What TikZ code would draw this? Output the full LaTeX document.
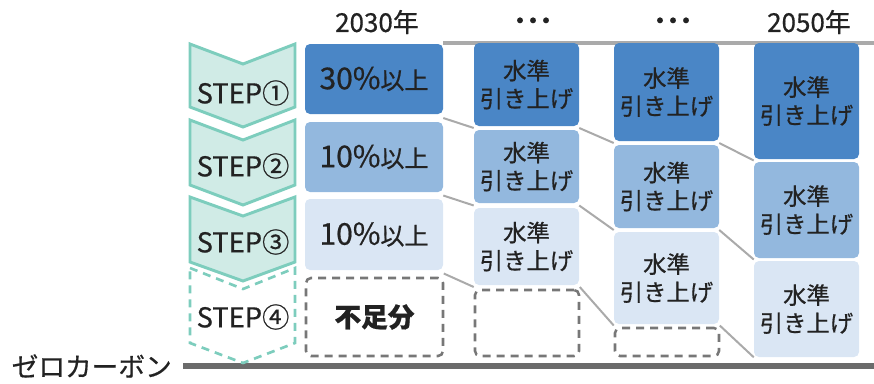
\documentclass[tikz,border=0pt]{standalone}
\usepackage{fontspec}
\setmainfont{Noto Sans CJK JP}[FakeBold=0.6]
\usetikzlibrary{calc}
\definecolor{dkb}{HTML}{4A86C6}
\definecolor{mdb}{HTML}{93B8DE}
\definecolor{ltb}{HTML}{DAE6F4}
\definecolor{mint}{HTML}{D0EBE6}
\definecolor{teal}{HTML}{7DCDBD}
\definecolor{txt}{HTML}{222222}
\definecolor{dash}{HTML}{777777}
\definecolor{conn}{HTML}{AAAAAA}
\newcommand\mkbox[7]{\node[#6, minimum width={(#4-#2)*0.75pt}, minimum height={(#5-#3)*0.75pt}] (#1) at ({(#2+#4)/2},{(#3+#5)/2}) {#7};}
\newcommand\fsz[1]{\fontsize{#1}{#1}\selectfont}
\newcommand\mydots{\makebox[9.75pt]{・}\makebox[9.75pt]{・}\makebox[9.75pt]{・}}
\tikzset{
  box/.style={rounded corners=3.75pt, inner sep=0pt, align=center, text=txt, font=\fsz{17.5}, execute at begin node={\baselineskip=21pt}},
  dkbox/.style={box, fill=dkb},
  mdbox/.style={box, fill=mdb},
  ltbox/.style={box, fill=ltb},
  dbox/.style={box, draw=dash, line width=1.9pt, dash pattern=on 6pt off 4.5pt},
  chev/.style={fill=mint, draw=teal, line width=2.2pt, line join=miter},
  chevd/.style={draw=teal, line width=2pt, dash pattern=on 6pt off 4.5pt},
  steptext/.style={text=txt, font=\fsz{20.5}, inner sep=0pt},
  conline/.style={draw=conn, line width=1.5pt},
  hdr/.style={text=txt, font=\fsz{19.5}, inner sep=0pt},
  dots/.style={text=txt, font=\fsz{20}, inner sep=0pt},
}
\begin{document}
\begin{tikzpicture}[x=0.75pt, y=-0.75pt]
\useasboundingbox (0,0) rectangle (874,383);
% horizontal lines
\coordinate (topL) at (443,43);
\coordinate (topR) at (874,43);
\coordinate (botL) at (183,366);
\coordinate (botR) at (874,366);
\draw[draw=conn, line width=3pt] (topL) -- (topR);
\draw[draw=black!58, line width=4.5pt] (botL) -- (botR);
% chevrons
\draw[chev] (190,44) -- (243,64) -- (295,44) -- (295,107) -- (243,127) -- (190,107) -- cycle;
\draw[chev] (190,120) -- (243,140) -- (295,120) -- (295,185) -- (243,205) -- (190,185) -- cycle;
\draw[chev] (190,197) -- (243,216) -- (295,197) -- (295,262) -- (243,281) -- (190,262) -- cycle;
\draw[chevd] (190,268) -- (243,289) -- (295,268) -- (295,343) -- (243,363) -- (190,343) -- cycle;
\node[steptext] (s1) at (243,93) {STEP①};
\node[steptext] (s2) at (243,166) {STEP②};
\node[steptext] (s3) at (243,242) {STEP③};
\node[steptext] (s4) at (243,317) {STEP④};
% headers
\node[hdr] (h1) at (377,22) {2030年};
\node[dots] (h2) at (533,24) {\mydots};
\node[dots] (h3) at (673,24) {\mydots};
\node[hdr] (h4) at (809,22) {2050年};
\node[text=txt, font=\fsz{20}, inner sep=0pt, anchor=east] (zero) at (172,366) {ゼロカーボン};
% column 1
\mkbox{a1}{305}{44}{443}{114}{dkbox}{{\fsz{22.5}30\%}{\fsz{18}以上}}
\mkbox{a2}{305}{122}{443}{192}{mdbox}{{\fsz{22.5}10\%}{\fsz{18}以上}}
\mkbox{a3}{305}{199}{443}{270}{ltbox}{{\fsz{22.5}10\%}{\fsz{18}以上}}
\mkbox{a4}{306}{278}{443}{356}{dbox}{\fsz{20}\bfseries 不足分}
% column 2
\mkbox{b1}{474}{43}{579}{126}{dkbox}{水準\\引き上げ}
\mkbox{b2}{474}{130}{579}{203}{mdbox}{水準\\引き上げ}
\mkbox{b3}{474}{208}{579}{285}{ltbox}{水準\\引き上げ}
\mkbox{b4}{475}{290}{579}{356}{dbox}{}
% column 3
\mkbox{c1}{614}{43}{719}{141}{dkbox}{水準\\引き上げ}
\mkbox{c2}{614}{145}{719}{228}{mdbox}{水準\\引き上げ}
\mkbox{c3}{614}{232}{719}{324}{ltbox}{水準\\引き上げ}
\mkbox{c4}{615}{328}{719}{356}{dbox}{}
% column 4
\mkbox{d1}{754}{43}{859}{159}{dkbox}{水準\\引き上げ}
\mkbox{d2}{754}{162}{859}{258}{mdbox}{水準\\引き上げ}
\mkbox{d3}{754}{261}{859}{357}{ltbox}{水準\\引き上げ}
% connectors
\draw[conline] ($(a1.south east)!0.5!(a2.north east)$) -- ($(b1.south west)!0.5!(b2.north west)$);
\draw[conline] ($(b1.south east)!0.5!(b2.north east)$) -- ($(c1.south west)!0.5!(c2.north west)$);
\draw[conline] ($(c1.south east)!0.5!(c2.north east)$) -- ($(d1.south west)!0.5!(d2.north west)$);
\draw[conline] ($(a2.south east)!0.5!(a3.north east)$) -- ($(b2.south west)!0.5!(b3.north west)$);
\draw[conline] ($(b2.south east)!0.5!(b3.north east)$) -- ($(c2.south west)!0.5!(c3.north west)$);
\draw[conline] ($(c2.south east)!0.5!(c3.north east)$) -- ($(d2.south west)!0.5!(d3.north west)$);
\draw[conline] ($(a3.south east)!0.5!(a4.north east)$) -- ($(b3.south west)!0.5!(b4.north west)$);
\draw[conline] ($(b3.south east)!0.5!(b4.north east)$) -- ($(c3.south west)!0.5!(c4.north west)$);
\draw[conline] ($(c3.south east)!0.5!(c4.north east)$) -- (d3.south west);
\end{tikzpicture}
\end{document}
